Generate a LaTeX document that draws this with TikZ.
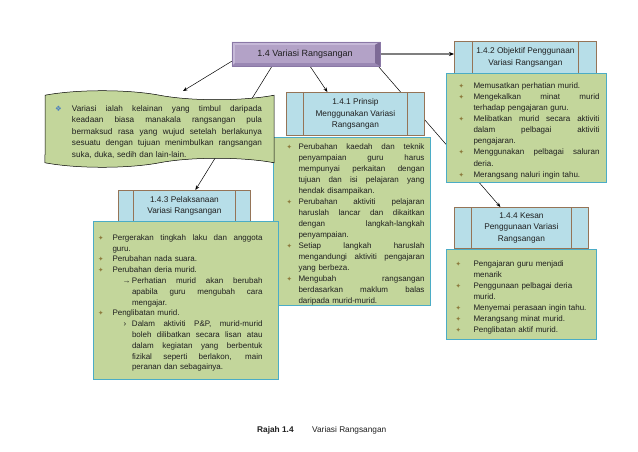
\documentclass[tikz,border=0pt]{standalone}
\usepackage{fontspec}
\setmainfont{Liberation Sans}
\newfontfamily\dejavu{DejaVu Sans}
\usetikzlibrary{arrows.meta,shapes.symbols,calc}
\pgfdeclarelayer{background}
\pgfsetlayers{background,main}
\definecolor{mainfill}{HTML}{B3A2C7}
\definecolor{mainright}{HTML}{7D6A96}
\definecolor{mainbottom}{HTML}{9A88B4}
\definecolor{maintop}{HTML}{C6B9D8}
\definecolor{mainborder}{HTML}{8A78A6}
\definecolor{hdrfill}{HTML}{B7DEE8}
\definecolor{hdrborder}{HTML}{957457}
\definecolor{contentfill}{HTML}{C3D69B}
\definecolor{contentborder}{HTML}{4BACC6}
\definecolor{bulc}{HTML}{8C7A3C}
\definecolor{wavebul}{HTML}{4F81BD}
\definecolor{txt}{HTML}{1F1F1F}
\definecolor{grayline}{HTML}{7F7F7F}
\newlength\BoxW \newlength\Lpad \newlength\Bind \newlength\Rpad \newlength\SubInd \newlength\SubBox
\newcommand\pads[4]{\setlength\BoxW{#1}\setlength\Lpad{#2}\setlength\Bind{#3}\setlength\Rpad{#4}}
\newcommand\Jsp{\spaceskip=\fontdimen2\font plus 1fil\relax}
\newcommand\bul{{\dejavu\fontsize{6.5}{6.5}\selectfont\textcolor{bulc}{✦}}}
\newcommand\wbul{{\dejavu\fontsize{7.5}{7.5}\selectfont\textcolor{wavebul}{❖}}}
\newcommand\curbul{\bul}
\newcommand\Bj[1]{\par\noindent\hbox to\BoxW{\Jsp\hskip\Lpad\relax\hbox to\Bind{\curbul\hss}#1\hskip\Rpad\relax}}
\newcommand\Bl[1]{\par\noindent\hbox to\BoxW{\hskip\Lpad\relax\hbox to\Bind{\curbul\hss}#1\hfil\hskip\Rpad\relax}}
\newcommand\Cj[1]{\par\noindent\hbox to\BoxW{\Jsp\hskip\Lpad\relax\hskip\Bind\relax #1\hskip\Rpad\relax}}
\newcommand\Cl[1]{\par\noindent\hbox to\BoxW{\hskip\Lpad\relax\hskip\Bind\relax #1\hfil\hskip\Rpad\relax}}
\newcommand\Sj[2]{\par\noindent\hbox to\BoxW{\Jsp\hskip\SubInd\relax\hbox to\SubBox{#1\hss}#2\hskip\Rpad\relax}}
\newcommand\Scj[1]{\par\noindent\hbox to\BoxW{\Jsp\hskip\SubInd\relax\hskip\SubBox\relax #1\hskip\Rpad\relax}}
\newcommand\Scl[1]{\par\noindent\hbox to\BoxW{\hskip\SubInd\relax\hskip\SubBox\relax #1\hfil\hskip\Rpad\relax}}
\begin{document}
\begin{tikzpicture}[x=1pt,y=-1pt,
  mainbox/.style={draw=mainborder, line width=0.4pt, fill=mainfill, minimum width=148pt, minimum height=24pt, inner sep=0pt, text=txt},
  hdr/.style={draw=hdrborder, line width=0.8pt, fill=hdrfill, anchor=north west, align=center, inner sep=0pt, font=\fontsize{8.3}{11.5}\selectfont, text=txt},
  hdrline/.style={draw=hdrborder, line width=0.8pt},
  content/.style={draw=contentborder, line width=1pt, fill=contentfill, anchor=north west, inner xsep=0pt, inner ysep=0pt, text=txt},
  wavebox/.style={shape=tape, draw=black, line width=0.5pt, fill=contentfill, tape bend top=out and in, tape bend bottom=in and out, tape bend height=9pt, inner xsep=0pt, inner ysep=0pt, text=txt},
  conn/.style={draw=black, line width=0.5pt, -{Stealth[length=4.5pt,width=3.5pt]}},
  grayconn/.style={draw=grayline, line width=1.3pt, -{Stealth[length=5pt,width=4pt,color=black]}},
  caption/.style={anchor=west, inner sep=0pt, font=\fontsize{8.3}{10}\selectfont, text=txt}
]
\useasboundingbox (0,0) rectangle (638,452);
\begin{pgfonlayer}{background}
\fill[white] (0,0) rectangle (638,452);
\end{pgfonlayer}

% headers
\node[hdr, minimum width=142pt, minimum height=32pt] (h142) at (454,41) {1.4.2 Objektif Penggunaan\\Variasi Rangsangan};
\node[hdr, minimum width=138pt, minimum height=43pt] (h141) at (286,92) {1.4.1 Prinsip\\Menggunakan Variasi\\Rangsangan};
\node[hdr, minimum width=132pt, minimum height=31pt] (h143) at (118,190) {1.4.3 Pelaksanaan\\Variasi Rangsangan};
\node[hdr, minimum width=134pt, minimum height=41pt] (h144) at (454,207) {1.4.4 Kesan\\Penggunaan Variasi\\Rangsangan};
\foreach \h/\d in {h142/18pt,h141/17pt,h143/15pt,h144/17pt}{
  \draw[hdrline] ([xshift=\d]\h.north west) -- ([xshift=\d]\h.south west);
  \draw[hdrline] ([xshift=-\d]\h.north east) -- ([xshift=-\d]\h.south east);
}

% content boxes
\node[content, text width=160pt, minimum height=109pt, font=\fontsize{8}{11.1}\selectfont] (c142) at (446,73) {\pads{160pt}{12pt}{15pt}{7pt}%
\Bl{Memusatkan perhatian murid.}
\Bj{Mengekalkan minat murid}
\Cl{terhadap pengajaran guru.}
\Bj{Melibatkan murid secara aktiviti}
\Cj{dalam pelbagai aktiviti}
\Cl{pengajaran.}
\Bj{Menggunakan pelbagai saluran}
\Cl{deria.}
\Bl{Merangsang naluri ingin tahu.}};

\node[content, text width=157pt, minimum height=168pt, font=\fontsize{8}{11}\selectfont] (c141) at (273,137) {\pads{157pt}{13pt}{12pt}{6pt}%
\Bj{Perubahan kaedah dan teknik}
\Cj{penyampaian guru harus}
\Cj{mempunyai perkaitan dengan}
\Cj{tujuan dan isi pelajaran yang}
\Cl{hendak disampaikan.}
\Bj{Perubahan aktiviti pelajaran}
\Cj{haruslah lancar dan dikaitkan}
\Cj{dengan langkah-langkah}
\Cl{penyampaian.}
\Bj{Setiap langkah haruslah}
\Cj{mengandungi aktiviti pengajaran}
\Cl{yang berbeza.}
\Bj{Mengubah rangsangan}
\Cj{berdasarkan maklum balas}
\Cl{daripada murid-murid.}};

\node[content, text width=185pt, minimum height=158pt, font=\fontsize{8}{10.8}\selectfont] (c143) at (93,221) {\pads{185pt}{4.5pt}{14.5pt}{16pt}\setlength\SubInd{29pt}\setlength\SubBox{9.5pt}%
\Bj{Pergerakan tingkah laku dan anggota}
\Cl{guru.}
\Bl{Perubahan nada suara.}
\Bl{Perubahan deria murid.}
\Sj{→}{Perhatian murid akan berubah}
\Scj{apabila guru mengubah cara}
\Scl{mengajar.}
\Bl{Penglibatan murid.}
\Sj{\kern1pt›}{Dalam aktiviti P\&P, murid-murid}
\Scj{boleh dilibatkan secara lisan atau}
\Scj{dalam kegiatan yang berbentuk}
\Scj{fizikal seperti berlakon, main}
\Scl{peranan dan sebagainya.}};

\node[content, text width=150pt, minimum height=90pt, font=\fontsize{8}{11}\selectfont] (c144) at (446,249) {\pads{150pt}{9pt}{18pt}{4pt}%
\Bl{Pengajaran guru menjadi}
\Cl{menarik}
\Bl{Penggunaan pelbagai deria}
\Cl{murid.}
\Bl{Menyemai perasaan ingin tahu.}
\Bl{Merangsang minat murid.}
\Bl{Penglibatan aktif murid.}};

% wave box
\node[wavebox, text width=229pt, minimum height=64pt, font=\fontsize{8.2}{11.5}\selectfont] (wave) at (159.5,129) {\pads{229pt}{10pt}{17pt}{12pt}\renewcommand\curbul{\wbul}%
\Bj{Variasi ialah kelainan yang timbul daripada}
\Cj{keadaan biasa manakala rangsangan pula}
\Cj{bermaksud rasa yang wujud setelah berlakunya}
\Cj{sesuatu dengan tujuan menimbulkan rangsangan}
\Cl{suka, duka, sedih dan lain-lain.}};
\coordinate (wavetop) at (183,91);

% main box
\node[mainbox] (main) at (306,54) {};
\fill[maintop] (main.north west) -- (main.north east) -- ([xshift=-5pt,yshift=-3pt]main.north east) -- ([xshift=3pt,yshift=-3pt]main.north west) -- cycle;
\fill[maintop] (main.north west) -- (main.south west) -- ([xshift=3pt,yshift=3pt]main.south west) -- ([xshift=3pt,yshift=-3pt]main.north west) -- cycle;
\fill[mainbottom] (main.south west) -- (main.south east) -- ([xshift=-5pt,yshift=3pt]main.south east) -- ([xshift=3pt,yshift=3pt]main.south west) -- cycle;
\fill[mainright] (main.north east) -- (main.south east) -- ([xshift=-5pt,yshift=3pt]main.south east) -- ([xshift=-5pt,yshift=-3pt]main.north east) -- cycle;
\draw[mainborder, line width=0.4pt] (main.north west) rectangle (main.south east);
\node[inner sep=0pt, font=\fontsize{9}{10}\selectfont, text=txt] (maintext) at ([xshift=-1pt]main.center) {1.4 Variasi Rangsangan};

% connectors
\begin{pgfonlayer}{background}
\draw[conn] ([yshift=5pt]main.south west) -- (wavetop);
\draw[conn] ([xshift=-34pt]main.south) -- ([xshift=11pt]h143.north);
\draw[conn] ([xshift=4pt]main.south) -- ([xshift=-28pt]h141.north);
\draw[conn] ([xshift=-2pt]main.south east) -- ([xshift=-21pt]h144.north);
\draw[grayconn] (main.east) -- (main.east -| h142.west);
\end{pgfonlayer}

% caption
\node[caption, font=\bfseries\fontsize{8.3}{10}\selectfont] (cap1) at (257,430) {Rajah 1.4};
\node[caption] (cap2) at (312,430) {Variasi Rangsangan};
\end{tikzpicture}
\end{document}
